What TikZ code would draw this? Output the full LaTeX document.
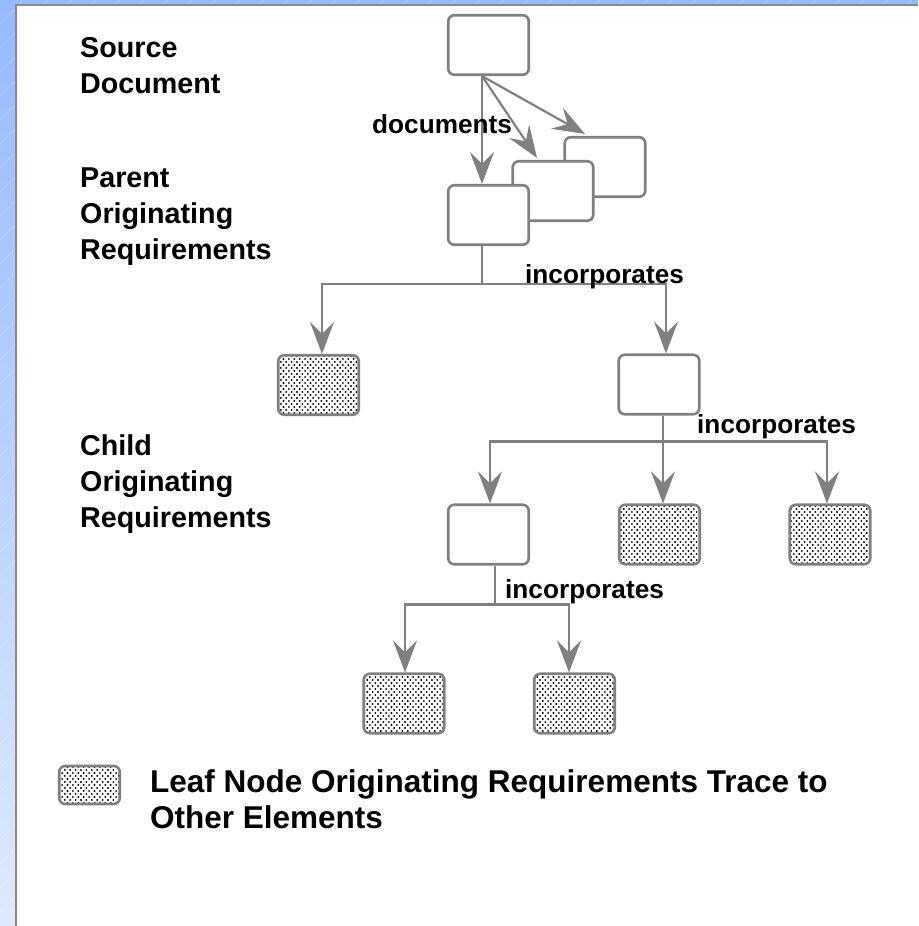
\documentclass[tikz,border=0pt]{standalone}
\usepackage{fontspec}
\setmainfont{Liberation Sans}
\usetikzlibrary{arrows.meta,patterns}

\definecolor{stripTop}{RGB}{150,186,255}
\definecolor{stripBot}{RGB}{224,233,252}
\definecolor{frameGray}{RGB}{138,138,138}
\definecolor{lineGray}{RGB}{128,128,128}

% staggered dot screen used for leaf requirements
\pgfdeclarepatternformonly{leafdots}{\pgfqpoint{-1.2pt}{-1.2pt}}{\pgfqpoint{6.6pt}{7.2pt}}{\pgfqpoint{5.4pt}{6pt}}{%
  \pgfpathcircle{\pgfqpoint{0pt}{0pt}}{1.05pt}%
  \pgfpathcircle{\pgfqpoint{2.7pt}{3pt}}{1.05pt}%
  \pgfusepath{fill}}

\tikzset{
  reqbox/.style={draw=lineGray, line width=2.6pt, rounded corners=6pt, fill=white,
    minimum width=80.5pt, minimum height=59.5pt, inner sep=0pt},
  leafbox/.style={reqbox, pattern=leafdots, pattern color=black},
  link/.style={draw=lineGray, line width=2.2pt},
  flow/.style={link, -{Stealth[length=32pt,width=24pt,inset=12pt]}},
  sidelabel/.style={anchor=base west, inner sep=0pt, font=\bfseries\fontsize{28.7}{36}\selectfont},
  linklabel/.style={anchor=base west, inner sep=0pt, font=\bfseries\fontsize{26.2}{32}\selectfont},
  legendlabel/.style={anchor=base west, inner sep=0pt, font=\bfseries\fontsize{31.5}{36}\selectfont},
}

\begin{document}
\begin{tikzpicture}[x=1pt,y=-1pt]
\useasboundingbox (0,0) rectangle (918,926);

% slide frame: blue strips with a faint diagonal texture
\shade[top color=stripTop, bottom color=stripBot] (0,0) rectangle (16,926);
\fill[stripTop] (16,0) rectangle (918,5);
\begin{scope}
  \clip (0,0) rectangle (16,926) (16,0) rectangle (918,5);
  \foreach \a in {0,24,...,960}
    \draw[white, opacity=.3, line width=.6pt] (\a,0) -- (\a-926,926);
\end{scope}
\draw[frameGray, line width=2pt] (15.8,926) -- (15.8,4.8) -- (918,4.8);

% level labels
\node[sidelabel] (srcA) at (80,57)  {Source};
\node[sidelabel] (srcB) at (80,93)  {Document};
\node[sidelabel] (parA) at (80,187) {Parent};
\node[sidelabel] (parB) at (80,223) {Originating};
\node[sidelabel] (parC) at (80,259) {Requirements};
\node[sidelabel] (chiA) at (80,455) {Child};
\node[sidelabel] (chiB) at (80,491) {Originating};
\node[sidelabel] (chiC) at (80,527) {Requirements};

% requirement boxes
\node[reqbox] (src) at (488.5,45) {};
\node[reqbox] (docC) at (605,167) {};
\node[reqbox] (docB) at (553,191) {};
\node[reqbox] (par) at (488.5,215) {};
\node[leafbox] (leafA) at (318.5,385) {};
\node[reqbox] (mid) at (659,384.5) {};
\node[reqbox] (low) at (488.5,534.5) {};
\node[leafbox] (leafB) at (659.5,534.5) {};
\node[leafbox] (leafC) at (830,534.5) {};
\node[leafbox] (leafD) at (404,703.5) {};
\node[leafbox] (leafE) at (574.5,703.5) {};

% source document -> parent requirements
\coordinate (fork) at ([xshift=-6.5pt]src.south);
\draw[flow] (fork) -- (fork |- par.north);
\draw[flow] (fork) -- ([xshift=-16pt,yshift=2pt]docB.north);
\draw[flow] (fork) -- ([xshift=-20pt,yshift=2pt]docC.north);
\node[linklabel] (lblDoc) at (372,133) {documents};

% parent -> first level children
\path ([xshift=-6.5pt]par.south) ++(0,38) coordinate (j1);
\draw[link] ([xshift=-6.5pt]par.south) -- (j1);
\draw[flow] (j1) -| ([xshift=3.5pt]leafA.north);
\draw[flow] (j1) -| ([xshift=7pt]mid.north);
\node[linklabel] (lblInc1) at (525,283) {incorporates};

% second level
\path ([xshift=4pt]mid.south) ++(0,26) coordinate (j2);
\draw[link] ([xshift=4pt]mid.south) -- (j2);
\draw[flow] (j2) -| ([xshift=1.5pt]low.north);
\draw[flow] (j2) -- (j2 |- leafB.north);
\draw[flow] (j2) -| ([xshift=-3pt]leafC.north);
\node[linklabel] (lblInc2) at (697,433) {incorporates};

% third level
\path ([xshift=6.5pt]low.south) ++(0,39) coordinate (j3);
\draw[link] ([xshift=6.5pt]low.south) -- (j3);
\draw[flow] (j3) -| ([xshift=1pt]leafD.north);
\draw[flow] (j3) -| ([xshift=-5.5pt]leafE.north);
\node[linklabel] (lblInc3) at (505,598) {incorporates};

% legend
\node[leafbox, minimum width=60.5pt, minimum height=38pt] (key) at (89.5,785) {};
\node[legendlabel] (keyA) at (150,792) {Leaf Node Originating Requirements Trace to};
\node[legendlabel] (keyB) at (150,828) {Other Elements};
\end{tikzpicture}
\end{document}
